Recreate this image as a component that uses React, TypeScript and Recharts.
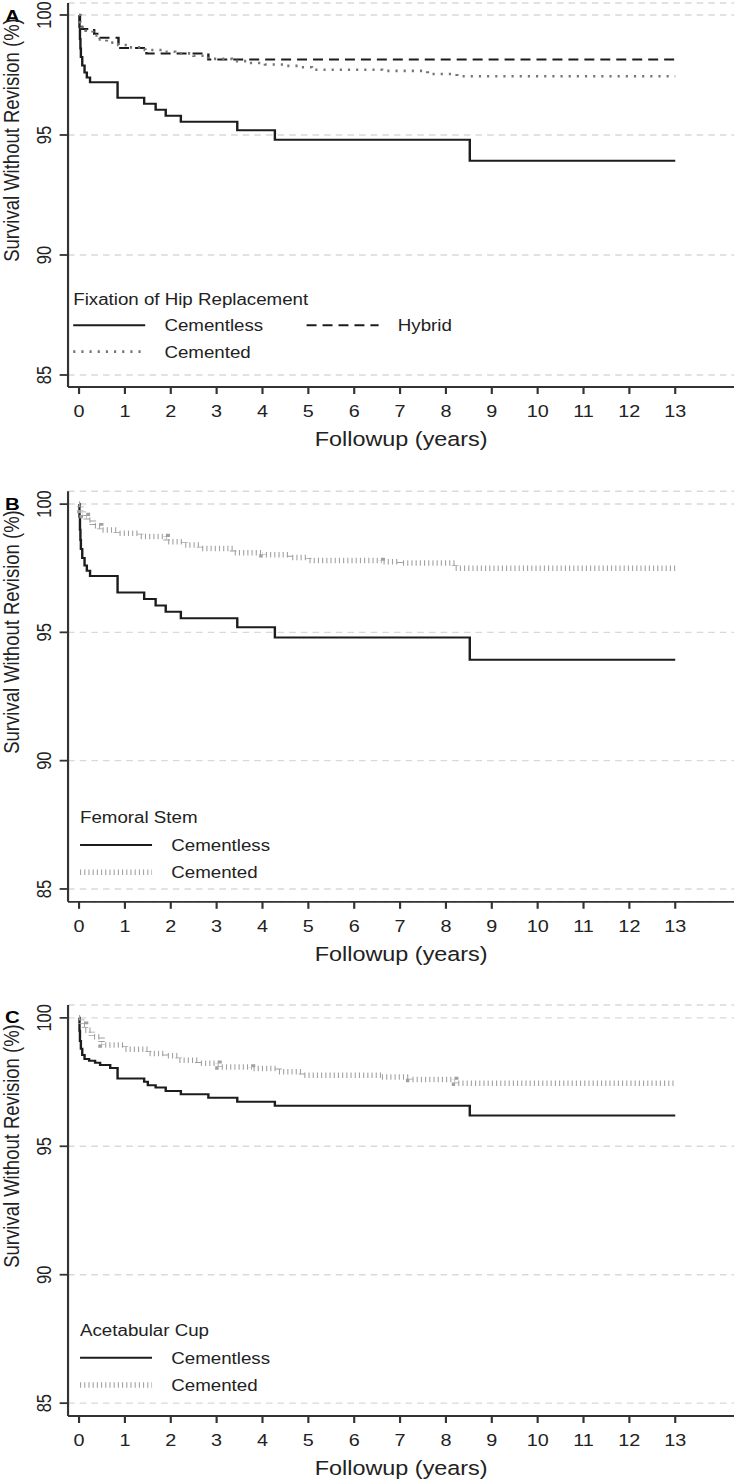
/**
 * Kaplan-Meier survival curves for hip replacement fixation (three panels).
 */
import { LineChart, Line, XAxis, YAxis, CartesianGrid } from 'recharts'

const FONT = '"Liberation Sans", Arial, Helvetica, sans-serif'
// the source figure is stretched sideways, so draw narrow and scale by 1.2
const W = 612

const years = [0, 1, 2, 3, 4, 5, 6, 7, 8, 9, 10, 11, 12, 13]
const yTicks = [85, 90, 95, 100]

// Cementless (panels A and B)
const cementlessT = [0, 0.01, 0.02, 0.03, 0.04, 0.07, 0.12, 0.17, 0.24, 0.84, 1.42, 1.67, 1.89, 2.22, 3.45, 4.27, 8.52, 13]
const cementlessS = [100, 99.5, 99.0, 98.6, 98.25, 97.9, 97.6, 97.4, 97.2, 96.55, 96.3, 96.05, 95.8, 95.55, 95.2, 94.8, 93.93, 93.93]

// Hybrid (panel A)
const hybridT = [0, 0.02, 0.07, 0.33, 0.45, 0.86, 1.47, 2.82, 13]
const hybridS = [100, 99.7, 99.42, 99.22, 99.05, 98.62, 98.4, 98.15, 98.15]

// Cemented (panel A)
const cementedAT = [0, 0.02, 0.05, 0.15, 0.3, 0.42, 0.6, 0.86, 1.1, 1.44, 1.8, 2.09, 2.5, 2.82, 3.33, 3.7, 4.06, 4.5, 4.78, 5.07, 6.6, 7.6, 8.24, 13]
const cementedAS = [100, 99.7, 99.5, 99.35, 99.15, 98.98, 98.85, 98.75, 98.65, 98.54, 98.47, 98.4, 98.3, 98.17, 98.08, 98.0, 97.94, 97.88, 97.82, 97.72, 97.67, 97.54, 97.45, 97.45]

// Cemented femoral stem (panel B)
const stemCemT = [0, 0.03, 0.08, 0.17, 0.3, 0.46, 0.82, 1.33, 1.91, 2.3, 2.64, 3.36, 4.0, 4.6, 5.0, 6.6, 7.0, 8.2, 13]
const stemCemS = [100, 99.75, 99.55, 99.38, 99.15, 98.99, 98.86, 98.73, 98.53, 98.4, 98.27, 98.1, 98.02, 97.92, 97.8, 97.75, 97.7, 97.5, 97.5]

// Acetabular cup (panel C)
const cupCemlessT = [0, 0.01, 0.02, 0.04, 0.07, 0.12, 0.22, 0.35, 0.46, 0.68, 0.84, 1.42, 1.5, 1.67, 1.89, 2.22, 2.82, 3.45, 4.27, 8.52, 13]
const cupCemlessS = [100, 99.5, 99.1, 98.8, 98.55, 98.4, 98.33, 98.25, 98.16, 98.05, 97.64, 97.51, 97.38, 97.29, 97.15, 97.03, 96.89, 96.73, 96.58, 96.2, 96.2]
const cupCemT = [0, 0.05, 0.13, 0.28, 0.49, 1.0, 1.51, 1.88, 2.17, 2.6, 3.04, 3.77, 4.35, 4.86, 6.6, 7.2, 8.2, 13]
const cupCemS = [100, 99.75, 99.52, 99.26, 98.94, 98.78, 98.61, 98.52, 98.35, 98.23, 98.09, 98.03, 97.9, 97.77, 97.7, 97.6, 97.45, 97.45]

const toPoints = (t: number[], s: number[]) => t.map((x, i) => ({ t: x, s: s[i] }))

interface LineStyle {
  stroke: string
  strokeWidth: number
  dash?: string
}

const solid: LineStyle = { stroke: '#1c1c1c', strokeWidth: 2 }
const dashed: LineStyle = { stroke: '#1c1c1c', strokeWidth: 2, dash: '8.3 5' }
const dotted: LineStyle = { stroke: '#767676', strokeWidth: 2.6, dash: '1.8 5' }
const ticked: LineStyle = { stroke: '#a0a0a0', strokeWidth: 5.5, dash: '0.9 2.6' }

interface Series {
  name: string
  data: { t: number; s: number }[]
  style: LineStyle
}

interface PanelProps {
  letter: string
  letterY: number
  top: number
  marginTop: number
  plotH: number
  series: Series[]
  legendTitle: string
  legendX: number
  legendY: number // baseline of legend title
  rowGap: number
  twoCols?: boolean
  yTitleY: number
}

function XTick({ x, y, payload }: any) {
  return (
    <text x={x} y={y} dy={17} textAnchor="middle" fontSize={16.5} fill="#222" fontFamily={FONT}>
      {payload.value}
    </text>
  )
}

function YTick({ x, y, payload }: any) {
  const bx = x - 1.5
  return (
    <text x={bx} y={y} transform={`rotate(-90 ${bx} ${y})`} textAnchor="middle" fontSize={16.5} fill="#222" fontFamily={FONT}>
      {payload.value}
    </text>
  )
}

function Panel(p: PanelProps) {
  const xAxisH = 60
  const chartH = p.marginTop + p.plotH + xAxisH
  const plotBottom = p.top + p.marginTop + p.plotH
  const axisStyle = { stroke: '#333', strokeWidth: 1.8 }

  // legend rows: A has Hybrid next to Cementless
  const rows = p.twoCols
    ? [
        { s: p.series[0], x: p.legendX, row: 1 },
        { s: p.series[1], x: p.legendX + 194.5, row: 1 },
        { s: p.series[2], x: p.legendX, row: 2 },
      ]
    : p.series.map((s, i) => ({ s, x: p.legendX, row: i + 1 }))

  return (
    <>
      <div style={{ position: 'absolute', left: 0, top: p.top }}>
        <LineChart width={W} height={chartH} margin={{ top: p.marginTop, right: 0, bottom: 0, left: 0 }}>
          <CartesianGrid vertical={false} stroke="#d9d9d9" strokeWidth={1.4} strokeDasharray="5.5 4.2" />
          <XAxis
            type="number"
            dataKey="t"
            domain={[-0.24, 14.29]}
            ticks={years}
            allowDataOverflow
            height={xAxisH}
            tickSize={7}
            tickMargin={6}
            axisLine={axisStyle}
            tickLine={axisStyle}
            tick={<XTick />}
            interval={0}
          />
          <YAxis
            type="number"
            domain={[84.5, 100.5]}
            ticks={yTicks}
            allowDataOverflow
            width={56.7}
            tickSize={7}
            tickMargin={6}
            axisLine={axisStyle}
            tickLine={axisStyle}
            tick={<YTick />}
            interval={0}
          />
          {p.series.map((s) => (
            <Line
              key={s.name}
              data={s.data}
              dataKey="s"
              name={s.name}
              type="stepAfter"
              stroke={s.style.stroke}
              strokeWidth={s.style.strokeWidth}
              strokeDasharray={s.style.dash}
              strokeLinecap="butt"
              dot={false}
              activeDot={false}
              isAnimationActive={false}
            />
          ))}
        </LineChart>
      </div>
      <svg
        width={W}
        height={chartH + 40}
        style={{ position: 'absolute', left: 0, top: p.top - 10, pointerEvents: 'none', overflow: 'visible' }}
        fontFamily={FONT}
      >
        <g transform={`translate(0, ${10 - p.top})`}>
          <text x={4.2} y={p.letterY} fontSize={17} fontWeight="bold" fill="#000">
            {p.letter}
          </text>
          <text
            x={16}
            y={p.yTitleY}
            transform={`rotate(-90 16 ${p.yTitleY})`}
            textAnchor="middle"
            fontSize={18.5}
            fill="#222"
          >
            Survival Without Revision (%)
          </text>
          <text x={(56.7 + W) / 2} y={plotBottom + 59} textAnchor="middle" fontSize={19.5} fill="#222">
            Followup (years)
          </text>
          <text x={p.legendX} y={p.legendY} fontSize={15.6} fill="#222">
            {p.legendTitle}
          </text>
          {rows.map(({ s, x, row }) => {
            const base = p.legendY + row * p.rowGap
            return (
              <g key={s.name}>
                <line
                  x1={x}
                  x2={x + 60}
                  y1={base - 6}
                  y2={base - 6}
                  stroke={s.style.stroke}
                  strokeWidth={s.style.strokeWidth}
                  strokeDasharray={s.style.dash}
                />
                <text x={x + 76} y={base} fontSize={15.6} fill="#222">
                  {s.name}
                </text>
              </g>
            )
          })}
        </g>
      </svg>
    </>
  )
}

export default function App() {
  return (
    <div
      style={{
        position: 'absolute',
        left: 0,
        top: 0,
        width: W,
        height: 1484,
        overflow: 'hidden',
        background: '#fff',
        transform: 'scaleX(1.2)',
        transformOrigin: '0 0',
      }}
    >
      <Panel
        letter="A"
        letterY={22}
        top={0}
        marginTop={3}
        plotH={384}
        legendTitle="Fixation of Hip Replacement"
        legendX={61}
        legendY={305}
        rowGap={26.3}
        twoCols
        yTitleY={140}
        series={[
          { name: 'Cementless', data: toPoints(cementlessT, cementlessS), style: solid },
          { name: 'Hybrid', data: toPoints(hybridT, hybridS), style: dashed },
          { name: 'Cemented', data: toPoints(cementedAT, cementedAS), style: dotted },
        ]}
      />
      <Panel
        letter="B"
        letterY={510}
        top={481}
        marginTop={10.2}
        plotH={410.6}
        legendTitle="Femoral Stem"
        legendX={66.7}
        legendY={823.5}
        rowGap={27.4}
        yTitleY={632}
        series={[
          { name: 'Cementless', data: toPoints(cementlessT, cementlessS), style: solid },
          { name: 'Cemented', data: toPoints(stemCemT, stemCemS), style: ticked },
        ]}
      />
      <Panel
        letter="C"
        letterY={1023}
        top={995}
        marginTop={10}
        plotH={411}
        legendTitle="Acetabular Cup"
        legendX={66.7}
        legendY={1336.5}
        rowGap={27.2}
        yTitleY={1146}
        series={[
          { name: 'Cementless', data: toPoints(cupCemlessT, cupCemlessS), style: solid },
          { name: 'Cemented', data: toPoints(cupCemT, cupCemS), style: ticked },
        ]}
      />
    </div>
  )
}
